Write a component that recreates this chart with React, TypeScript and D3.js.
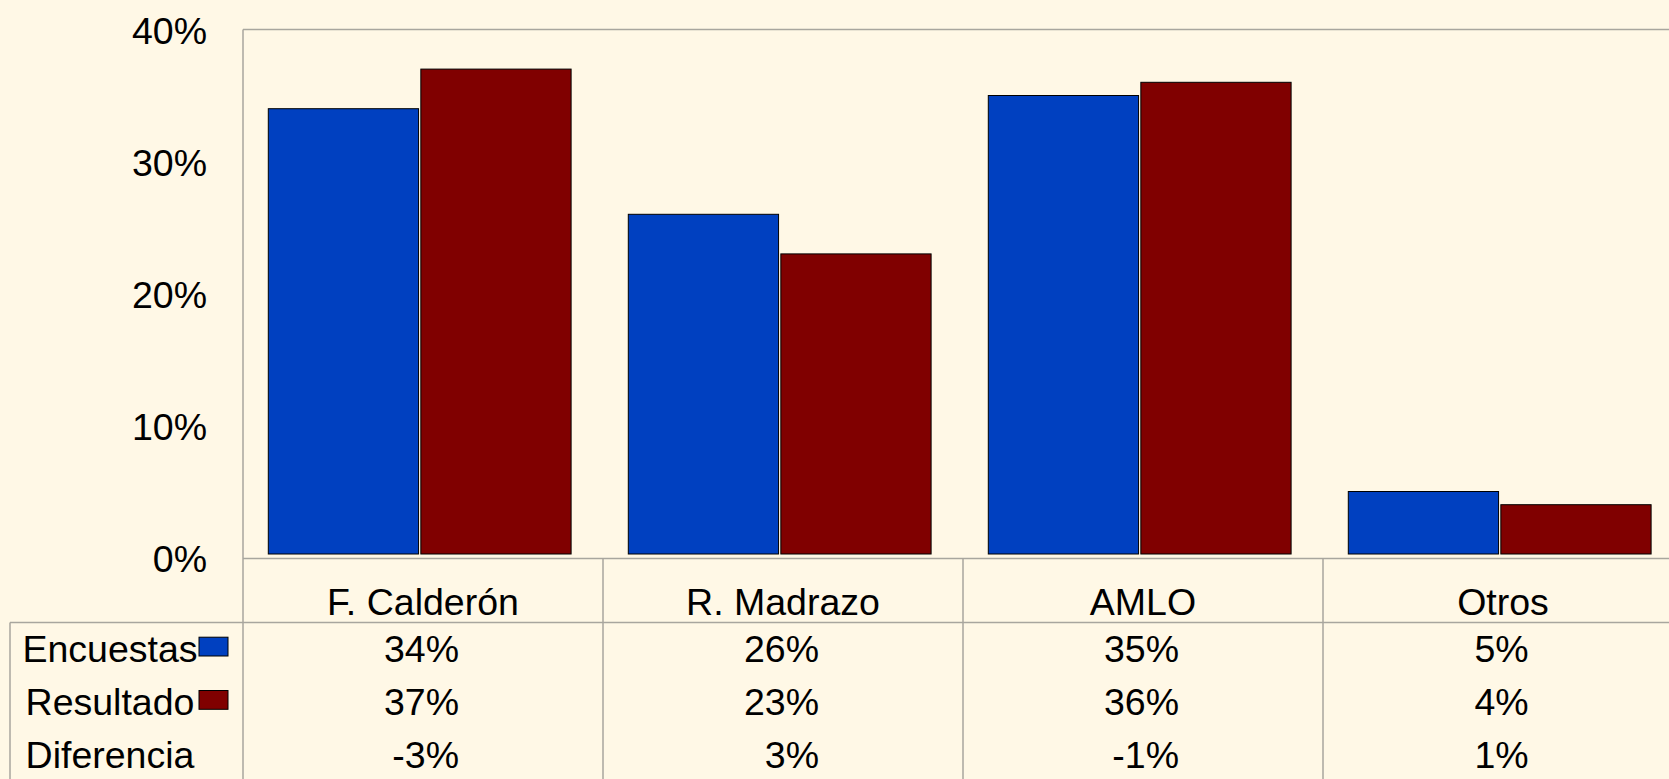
import React from 'react';
import * as d3 from 'd3';

// candidates and the two series (percent), plus the difference row of the table
const candidates = ['F. Calderón', 'R. Madrazo', 'AMLO', 'Otros'];
const seriesNames = ['Encuestas', 'Resultado'];
const encuestas = [34, 26, 35, 5];
const resultado = [37, 23, 36, 4];
const diferencia = [-3, 3, -1, 1];
const yTicks = [0, 10, 20, 30, 40];

const W = 1669;
const H = 779;
const margin = { left: 243, top: 29.5, right: -14 };
const axisY = 558.5;
const headerBottom = 622.5;
const rowH = 53.3;
const fontSize = 37.5;
const font = '"Liberation Sans", Arial, sans-serif';
const bg = '#fff8e6';
const gridColor = '#a8a69e';
const colors = { Encuestas: '#0040c0', Resultado: '#800000' };

const measure = (() => {
  const ctx = document.createElement('canvas').getContext('2d');
  return (t: string) => {
    if (!ctx) return t.length * fontSize * 0.55;
    ctx.font = `${fontSize}px "Liberation Sans"`;
    return ctx.measureText(t).width;
  };
})();

const App = () => {
  const data = candidates.map((name, i) => ({
    name,
    Encuestas: encuestas[i],
    Resultado: resultado[i],
    Diferencia: diferencia[i],
  }));

  const x0 = d3.scaleBand().domain(candidates).range([margin.left, W - margin.right]).padding(0);
  const x1 = d3.scaleBand().domain(seriesNames).range([25.3, 25.3 + 302.8]).paddingInner(0.015);
  const y = d3.scaleLinear().domain([0, 40]).range([axisY - 1, margin.top]);

  const rows = [
    { label: 'Encuestas', key: 'Encuestas', swatch: colors.Encuestas },
    { label: 'Resultado', key: 'Resultado', swatch: colors.Resultado },
    { label: 'Diferencia', key: 'Diferencia', swatch: null },
  ];
  const fmt = (v: number) => `${v}%`;

  return (
    <svg width={W} height={H} style={{ position: 'absolute', left: 0, top: 0, background: bg }} fontFamily={font}>
      <rect x={0} y={0} width={W} height={H} fill={bg} />

      {/* frame lines */}
      <g stroke={gridColor} strokeWidth={1.5} fill="none">
        <line x1={margin.left} x2={W - margin.right} y1={margin.top} y2={margin.top} />
        <line x1={margin.left} x2={W - margin.right} y1={axisY} y2={axisY} />
        <line x1={10} x2={W - margin.right} y1={headerBottom} y2={headerBottom} />
        <line x1={10} x2={10} y1={headerBottom} y2={H} />
        <line x1={margin.left} x2={margin.left} y1={margin.top} y2={H} />
        {candidates.slice(1).map(c => (
          <line key={c} x1={x0(c)} x2={x0(c)} y1={axisY} y2={H} />
        ))}
      </g>

      {/* y axis labels */}
      {yTicks.map(t => (
        <text key={t} x={207} y={y(t) + 1} dy="0.36em" textAnchor="end" fontSize={fontSize} fill="#000">
          {fmt(t)}
        </text>
      ))}

      {/* bars */}
      {data.map(d => (
        <g key={d.name} transform={`translate(${x0(d.name)},0)`}>
          {seriesNames.map(s => (
            <rect
              key={s}
              x={x1(s)}
              y={y(d[s])}
              width={x1.bandwidth()}
              height={y(0) - 3.5 - y(d[s])}
              fill={colors[s]}
              stroke="#000"
              strokeWidth={1}
            />
          ))}
        </g>
      ))}

      {/* category labels */}
      {candidates.map(c => (
        <text key={c} x={x0(c) + x0.bandwidth() / 2} y={615} textAnchor="middle" fontSize={fontSize} fill="#000">
          {c}
        </text>
      ))}

      {/* data table */}
      {rows.map((r, ri) => {
        const base = headerBottom + 39.2 + ri * rowH;
        return (
          <g key={r.key}>
            <text x={110} y={base} textAnchor="middle" fontSize={fontSize} fill="#000">{r.label}</text>
            {r.swatch && (
              <rect x={199} y={base - 24.5} width={29} height={18.8} fill={r.swatch} stroke="#000" strokeWidth={1} />
            )}
          </g>
        );
      })}

      {data.map(d => {
        const vals = rows.map(r => fmt(d[r.key]));
        const maxW = d3.max(vals, v => measure(v)) || 0;
        const right = x0(d.name) + x0.bandwidth() / 2 - 1.5 + maxW / 2;
        return (
          <g key={d.name}>
            {vals.map((v, ri) => (
              <text key={ri} x={right} y={headerBottom + 39.2 + ri * rowH} textAnchor="end" fontSize={fontSize} fill="#000">
                {v}
              </text>
            ))}
          </g>
        );
      })}
    </svg>
  );
};

export default App;
